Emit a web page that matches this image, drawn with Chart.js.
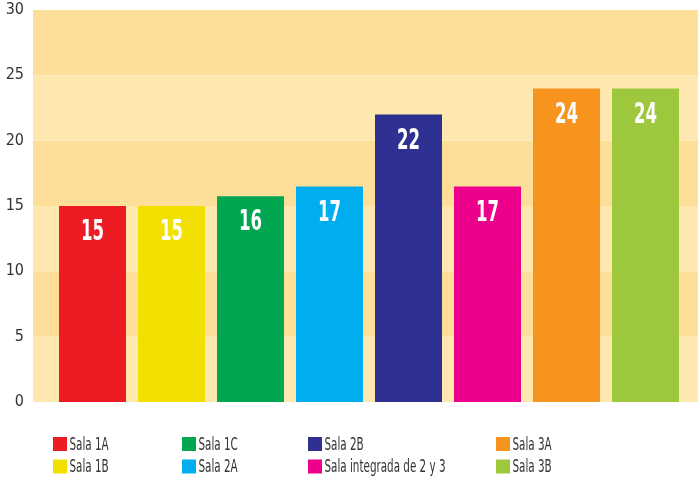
<!DOCTYPE html>
<html><head><meta charset="utf-8">
<script src="https://cdn.jsdelivr.net/npm/chart.js@4/dist/chart.umd.min.js"></script>
<style>html,body{margin:0;padding:0;background:#fff}#wrap{width:698px;height:479px;position:relative}</style>
</head><body><div id="wrap"><canvas id="c" width="698" height="479"></canvas></div>
<script>
const categories = ["Sala 1A","Sala 1B","Sala 1C","Sala 2A","Sala 2B","Sala integrada de 2 y 3","Sala 3A","Sala 3B"];
const values = [15, 15, 15.75, 16.5, 22, 16.5, 24, 24];
const barLabels = ["15","15","16","17","22","17","24","24"];
const colors = ["#ED1C24","#F2E000","#00A650","#00AEEF","#2E3192","#EC008C","#F7941D","#9DC83D"];
const yTicks = [0,5,10,15,20,25,30];
const legendOrder = [[0,1],[2,3],[4,5],[6,7]];
const FONT = "'DejaVu Sans Condensed','DejaVu Sans',sans-serif";

const bands = {
  id:'bands',
  beforeDraw(chart){
    const {ctx, scales:{y}} = chart;
    for(let i=0;i<yTicks.length-1;i++){
      const y0=y.getPixelForValue(yTicks[i]), y1=y.getPixelForValue(yTicks[i+1]);
      ctx.fillStyle = i%2===0 ? '#FEE8B0' : '#FEDF9A';
      ctx.fillRect(33, y1, 698-33, y0-y1);
    }
  }
};
const labelsPlugin = {
  id:'vlabels',
  afterDatasetsDraw(chart){
    const {ctx} = chart;
    const meta = chart.getDatasetMeta(0);
    ctx.save();
    ctx.fillStyle='#fff';
    ctx.font = "condensed bold 28px "+FONT;
    ctx.textAlign='center'; ctx.textBaseline='middle';
    const sx = 23 / ctx.measureText("00").width;
    meta.data.forEach((bar,i)=>{
      ctx.save();
      ctx.translate(bar.x, bar.y+27);
      ctx.scale(sx,1);
      ctx.fillText(barLabels[i], 0, 0);
      ctx.restore();
    });
    ctx.restore();
  }
};
const legendPlugin = {
  id:'clegend',
  afterDraw(chart){
    const {ctx} = chart;
    const colX=[53,182,308,496], rowY=[444,466.5];
    ctx.save();
    ctx.font = "condensed 18px "+FONT;
    ctx.textBaseline='middle'; ctx.textAlign='left';
    const sx = 121 / ctx.measureText(categories[5]).width;
    legendOrder.forEach((col,ci)=>col.forEach((idx,ri)=>{
      ctx.fillStyle=colors[idx];
      ctx.fillRect(colX[ci], rowY[ri]-7, 14, 14);
      ctx.fillStyle='#333';
      ctx.save();
      ctx.translate(colX[ci]+16.5, rowY[ri]+1);
      ctx.scale(sx,1);
      ctx.fillText(categories[idx], 0, 0);
      ctx.restore();
    }));
    ctx.restore();
  }
};

new Chart(document.getElementById('c'), {
  type:'bar',
  data:{ labels:categories, datasets:[{ data:values, backgroundColor:colors, borderWidth:0, barPercentage:0.848, categoryPercentage:1 }]},
  options:{
    responsive:false, animation:false,
    layout:{ padding:{ top:10, right:13, bottom:77, left:0 } },
    plugins:{ legend:{display:false}, tooltip:{enabled:false} },
    scales:{
      x:{ display:false },
      y:{ min:0, max:30, border:{display:false},
          grid:{ display:false, drawTicks:false },
          afterFit(s){ s.width = 53; s.paddingTop = 0; s.paddingBottom = 0; },
          afterBuildTicks(s){ s.ticks = yTicks.map(v=>({value:v})); },
          ticks:{ padding:29, color:'#333', font:{ family:FONT, size:16, weight:'condensed' } } }
    }
  },
  plugins:[bands, labelsPlugin, legendPlugin]
});
</script></body></html>
